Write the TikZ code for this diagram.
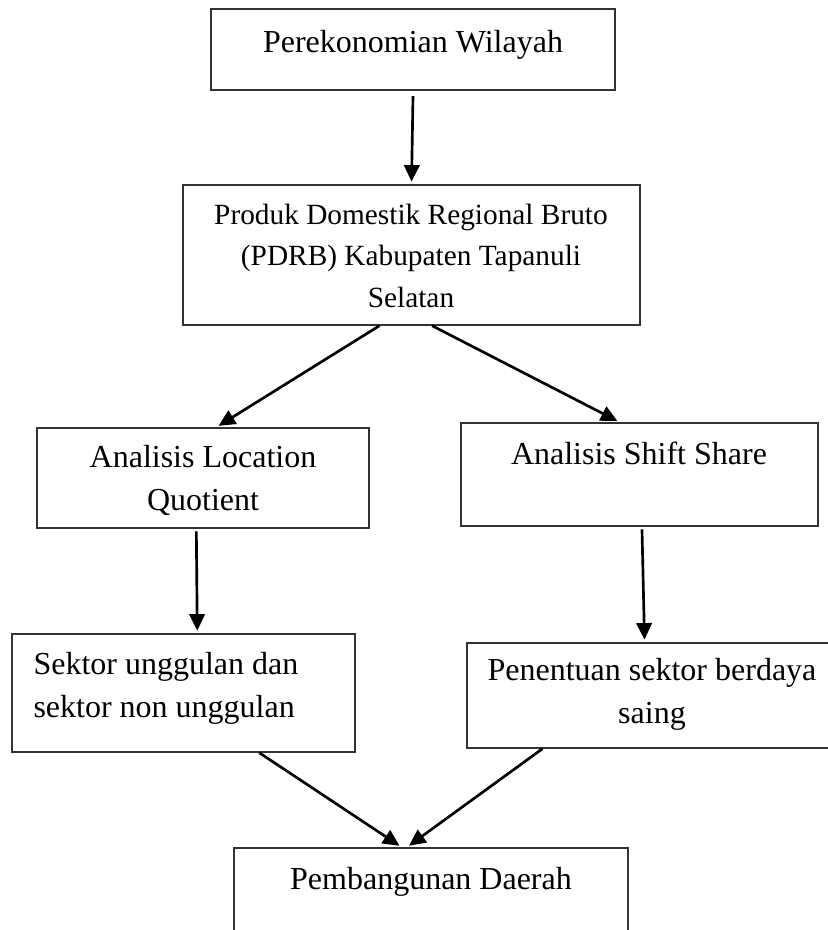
\documentclass[tikz,border=0pt]{standalone}
\usepackage{fontspec}
\setmainfont{Liberation Serif}
\usetikzlibrary{arrows.meta,fit,calc}

\tikzset{
    kotak/.style={draw=black!80, line width=0.55pt, inner sep=0pt},
    teks/.style={inner sep=0pt, align=center, font=\fontsize{12}{15.8}\selectfont},
    panah/.style={-{Triangle[length=6.2pt,width=5.8pt]}, line width=1pt, shorten >=1pt}
}

\begin{document}
\begin{tikzpicture}[x=0.375pt, y=-0.375pt]
    \useasboundingbox (0,0) rectangle (827,930);
    % kotak
    \node[kotak, fit={(211,9) (615,90)}] (wilayah) {};
    \node[kotak, fit={(183,185) (640,325)}] (pdrb) {};
    \node[kotak, fit={(37,428) (369,528)}] (lq) {};
    \node[kotak, fit={(461,423) (818,526)}] (ss) {};
    \node[kotak, fit={(12,634) (355,752)}] (unggul) {};
    \node[kotak, fit={(467,643) (837,748)}] (saing) {};
    \node[kotak, fit={(234,848) (628,960)}] (daerah) {};
    % teks (base = baris terakhir)
    \node[teks, anchor=base] (t-wilayah) at (413,52) {Perekonomian Wilayah};
    \node[teks, anchor=base, font=\fontsize{11}{15.4}\selectfont] (t-pdrb) at (411,307)
        {Produk Domestik Regional Bruto\\(PDRB) Kabupaten Tapanuli\\Selatan};
    \node[teks, anchor=base] (t-lq) at (203,510) {Analisis Location\\Quotient};
    \node[teks, anchor=base] (t-ss) at (639,464) {Analisis Shift Share};
    \node[teks, anchor=base west, align=left] (t-unggul) at (33,717)
        {Sektor unggulan dan\\sektor non unggulan};
    \node[teks, anchor=base] (t-saing) at (652,723) {Penentuan sektor berdaya\\saing};
    \node[teks, anchor=base] (t-daerah) at (431,889) {Pembangunan Daerah};
    % panah
    \draw[panah] ([yshift=-2pt]wilayah.south) -- (pdrb.north);
    \draw[panah] ($(pdrb.south west)!0.43!(pdrb.south east)$) -- ($(lq.north west)!0.54!(lq.north east)$);
    \draw[panah] ($(pdrb.south west)!0.545!(pdrb.south east)$) -- ($(ss.north west)!0.445!(ss.north east)$);
    \draw[panah] ([yshift=-1pt]$(lq.south west)!0.48!(lq.south east)$) -- ($(unggul.north west)!0.54!(unggul.north east)$);
    \draw[panah] ([yshift=-1pt]$(ss.south west)!0.507!(ss.south east)$) -- ($(saing.north west)!0.48!(saing.north east)$);
    \draw[panah] ($(unggul.south west)!0.72!(unggul.south east)$) -- ($(daerah.north west)!0.426!(daerah.north east)$);
    \draw[panah] ($(saing.south west)!0.205!(saing.south east)$) -- ($(daerah.north west)!0.439!(daerah.north east)$);
\end{tikzpicture}
\end{document}
